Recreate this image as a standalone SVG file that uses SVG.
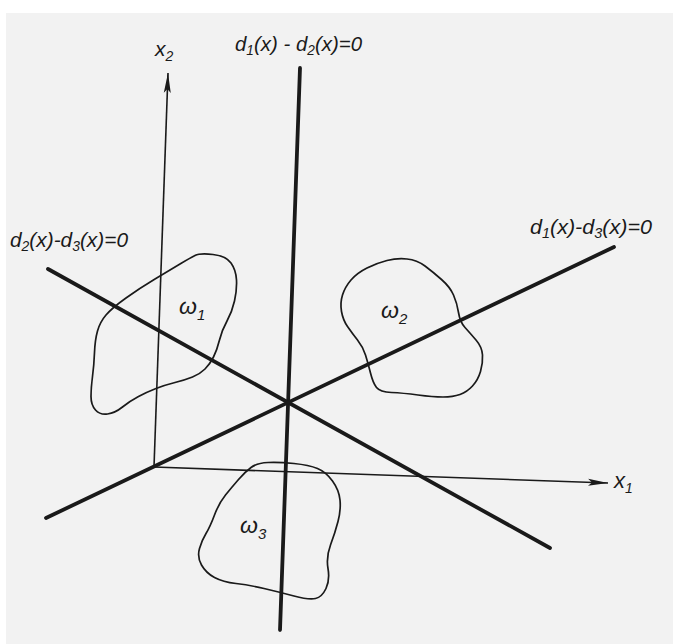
<svg xmlns="http://www.w3.org/2000/svg" width="673" height="644" viewBox="0 0 673 644">
<style>
  .bold { stroke:#1a1a1a; stroke-width:3.8; fill:none; stroke-linecap:round; }
  .axis { stroke:#1a1a1a; stroke-width:1.6; fill:none; }
  .blob { stroke:#1a1a1a; stroke-width:1.7; fill:none; stroke-linejoin:round; }
  .lbl { font-family:"Liberation Sans Narrow","Liberation Sans","DejaVu Sans Condensed",sans-serif; font-style:italic; fill:#1a1a1a; font-size:21px; }
  .sub { font-size:14px; }
  .om { font-size:23px; }
  .osub { font-size:15px; }
</style>
<defs>
  <marker id="arr" markerUnits="userSpaceOnUse" markerWidth="22" markerHeight="10" refX="20" refY="5" orient="auto">
    <path d="M0,1.5 L20,5 L0,8.5 L4,5 Z" fill="#1a1a1a"/>
  </marker>
</defs>
<rect x="0" y="0" width="673" height="644" fill="#ffffff"/>
<rect x="6" y="13" width="667" height="631" fill="#f2f2f2"/>

<g id="connectors">
  <path id="axis-x2" class="axis" d="M154,467 L168,73" marker-end="url(#arr)"/>
  <path id="axis-x1" class="axis" d="M154,467 L608,483" marker-end="url(#arr)"/>
  <path id="d1-d2" class="bold" d="M300,68 L280,630"/>
  <path id="d2-d3" class="bold" d="M48,269 L550,548"/>
  <path id="d1-d3" class="bold" d="M46,518 L614,247"/>
</g>

<g id="omega1">
  <path class="blob" d="M195,255.5 Q200,253 213,254.5 Q226,256 231,263 Q236,270 236.5,280 Q237,290 234.5,301 Q232,312 227,321 Q222,330 219.5,340 Q217,350 213.5,357 Q210,364 205,369 Q200,374 192.5,377 Q185,380 175,382.5 Q165,385 156,388.5 Q147,392 138.5,396.5 Q130,401 122.5,407 Q115,413 107.5,414 Q100,415 95.5,410 Q91,405 91,396.5 Q91,388 92.5,376.5 Q94,365 94.5,352.5 Q95,340 97.5,331 Q100,322 106,315 Q112,308 126,298 Q140,288 155,279 Q170,270 180,264 Q190,258 195,255.5 Z"/>
  <text class="lbl om" x="179" y="314">ω<tspan class="osub" dy="6">1</tspan></text>
</g>

<g id="omega2">
  <path class="blob" d="M387,260.5 Q397,258 407,259 Q417,260 425,266 Q433,272 441.5,279.5 Q450,287 453.5,295 Q457,303 458.5,312.5 Q460,322 465,327.5 Q470,333 476,340 Q482,347 482.5,355 Q483,363 480.5,371.5 Q478,380 472.5,386 Q467,392 460,394.5 Q453,397 443,397 Q433,397 418,395 Q403,393 391.5,392.5 Q380,392 376.5,387.5 Q373,383 370.5,373 Q368,363 365.5,355 Q363,347 357.5,340 Q352,333 347.5,326.5 Q343,320 341.5,311.5 Q340,303 342.5,295 Q345,287 351,280 Q357,273 367,268 Q377,263 387,260.5 Z"/>
  <text class="lbl om" x="381" y="318">ω<tspan class="osub" dy="6">2</tspan></text>
</g>

<g id="omega3">
  <path class="blob" d="M238.5,479.5 Q245,472 251,467.5 Q257,463 268,462.5 Q279,462 294,463.5 Q309,465 317.5,468.5 Q326,472 332.5,481 Q339,490 340,500 Q341,510 338,521.5 Q335,533 330.5,545 Q326,557 328,568.5 Q330,580 326,588.5 Q322,597 315.5,598.5 Q309,600 294,596 Q279,592 264,588.5 Q249,585 236,583.5 Q223,582 214.5,577.5 Q206,573 201.5,565 Q197,557 199.5,548.5 Q202,540 206,533.5 Q210,527 214.5,515 Q219,503 225.5,495 Q232,487 238.5,479.5 Z"/>
  <text class="lbl om" x="240" y="533">ω<tspan class="osub" dy="6">3</tspan></text>
</g>

<g id="labels">
  <text class="lbl" x="155" y="56">x<tspan class="sub" dy="5">2</tspan></text>
  <text class="lbl" x="614" y="488" style="font-size:22px">x<tspan class="sub" dy="5">1</tspan></text>
  <text class="lbl" x="235" y="51" textLength="127" lengthAdjust="spacingAndGlyphs">d<tspan class="sub" dy="4">1</tspan><tspan dy="-4">(x) - d</tspan><tspan class="sub" dy="4">2</tspan><tspan dy="-4">(x)=0</tspan></text>
  <text class="lbl" x="10" y="247" textLength="118" lengthAdjust="spacingAndGlyphs">d<tspan class="sub" dy="4">2</tspan><tspan dy="-4">(x)-d</tspan><tspan class="sub" dy="4">3</tspan><tspan dy="-4">(x)=0</tspan></text>
  <text class="lbl" x="530" y="234" textLength="122" lengthAdjust="spacingAndGlyphs">d<tspan class="sub" dy="4">1</tspan><tspan dy="-4">(x)-d</tspan><tspan class="sub" dy="4">3</tspan><tspan dy="-4">(x)=0</tspan></text>
</g>
</svg>
